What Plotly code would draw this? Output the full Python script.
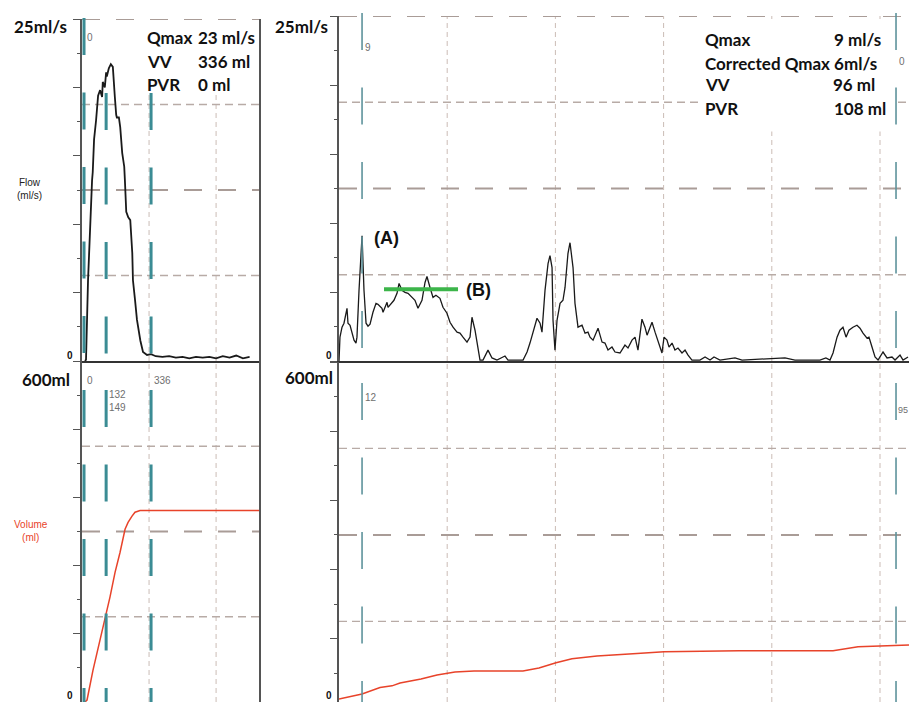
import plotly.graph_objects as go

W, H = 909, 702

# ---------------- data ----------------
# left panel: normal void, time in s, flow in ml/s, volume in ml
left_t = [0.45, 0.6, 0.9, 1.2, 1.5, 1.6, 1.8, 2.1, 2.4, 2.7,
          3.0, 3.1, 3.4, 3.6, 3.7, 4.0, 4.3, 4.6, 4.8, 4.9,
          5.1, 5.2, 5.5, 5.7, 6.0, 6.1, 6.3, 6.4, 6.6, 6.9,
          7.2, 7.5, 7.6, 7.9, 8.2, 8.7, 9.1, 9.7, 10.3, 11.0,
          12.0, 13.0, 14.0, 15.0, 16.0, 17.0, 18.0, 19.0, 20.0, 21.0,
          22.0, 23.0, 24.0, 25.0]
left_flow = [0, 0.1, 5.9, 10.3, 13.2, 13.8, 16.2, 17.6, 19.4, 19.8,
             19.3, 20.4, 20.0, 21.1, 20.8, 21.4, 21.7, 21.5, 20.4, 19.3,
             18.0, 17.8, 17.8, 17.1, 15.2, 14.9, 14.2, 13.2, 10.9, 10.5,
             10.3, 7.9, 5.9, 4.5, 3.0, 1.5, 0.66, 0.44, 0.5, 0.35,
             0.3, 0.35, 0.25, 0.3, 0.2, 0.3, 0.25, 0.3, 0.2, 0.35,
             0.25, 0.4, 0.2, 0.3]
left_vol_t = [0.45, 0.75, 1.64, 2.69, 3.58, 4.18, 4.93, 5.67, 6.42, 6.87,
              7.46, 7.91, 8.66, 12.0, 18.0, 26.4]
left_vol = [0, 3.5, 56, 109, 150, 185, 228, 263, 304, 316,
            327, 334, 337, 337, 336, 337]

# right panel: interrupted void
right_t = [0, 0.09, 0.28, 0.46, 0.74, 0.83, 1.02, 1.20, 1.39, 1.57,
           1.66, 1.85, 2.13, 2.31, 2.50, 2.68, 2.87, 3.14, 3.42, 3.60,
           3.97, 4.07, 4.44, 4.53, 4.81, 5.08, 5.36, 5.55, 5.82, 6.10,
           6.38, 6.75, 7.02, 7.30, 7.67, 7.95, 8.13, 8.41, 8.69, 8.96,
           9.33, 9.61, 9.98, 10.26, 10.54, 10.91, 11.18, 11.46, 11.83, 12.11,
           12.29, 12.57, 12.75, 13.03, 13.31, 13.77, 14.14, 14.60, 15.34, 15.62,
           17.01, 17.38, 17.65, 17.93, 18.30, 18.58, 18.76, 19.04, 19.32, 19.50,
           19.69, 19.78, 19.96, 20.15, 20.43, 20.70, 20.89, 21.16, 21.35, 21.63,
           21.81, 22.09, 22.46, 22.74, 23.01, 23.20, 23.48, 23.94, 24.31, 24.58,
           24.86, 25.23, 25.51, 25.97, 26.43, 26.71, 27.08, 27.36, 27.63, 28.00,
           28.28, 28.47, 28.93, 29.21, 29.48, 29.85, 30.04, 30.31, 30.50, 30.78,
           31.05, 31.33, 31.70, 31.98, 32.26, 32.62, 33.36, 33.83, 34.29, 34.66,
           35.21, 36.60, 37.25, 41.22, 42.14, 44.45, 45.00, 45.38, 45.66, 46.03,
           46.30, 46.58, 46.86, 47.13, 47.50, 47.87, 48.15, 48.43, 48.80, 48.98,
           49.26, 49.54, 49.82, 50.28, 50.65, 51.11, 51.39, 51.85, 52.13, 52.59]
right_flow = [0, 1.73, 2.45, 2.74, 3.82, 2.74, 2.59, 2.09, 1.51, 1.30,
              1.73, 5.12, 9.08, 5.12, 2.74, 2.52, 2.67, 3.53, 4.18, 4.11,
              3.82, 3.53, 4.25, 3.89, 4.18, 4.40, 4.90, 5.62, 5.12, 4.97,
              4.90, 4.61, 4.40, 3.82, 4.40, 5.69, 6.12, 5.33, 4.61, 4.76,
              4.54, 3.89, 3.46, 2.81, 2.45, 2.09, 2.02, 1.73, 1.37, 1.73,
              3.17, 2.23, 1.30, 0.07, 0.07, 0.79, 0.22, 0.07, 0.36, 0.07,
              0.07, 0.65, 1.30, 2.02, 3.10, 2.74, 2.09, 5.12, 7.06, 7.64,
              6.77, 2.95, 0.79, 2.95, 4.18, 4.40, 5.33, 7.78, 8.57, 6.77,
              4.18, 2.45, 2.59, 2.02, 2.09, 1.73, 1.51, 2.38, 1.37, 1.30,
              0.79, 1.01, 0.65, 0.58, 1.15, 0.94, 1.51, 1.73, 0.79, 3.03,
              2.45, 1.87, 2.81, 2.09, 1.51, 0.58, 1.73, 1.51, 1.01, 1.30,
              0.79, 0.94, 0.58, 0.79, 0.43, 0.07, 0.07, 0.29, 0.07, 0.29,
              0.07, 0.22, 0.07, 0.22, 0.07, 0.07, 0.22, 0.07, 0.58, 1.73,
              2.23, 2.45, 1.73, 2.23, 2.45, 2.59, 2.38, 2.02, 1.66, 1.73,
              1.01, 0.29, 0.07, 0.65, 0.22, 0.29, 0.07, 0.43, 0.07, 0.29]
right_vol_t = [0, 2.13, 3.79, 4.90, 5.64, 7.58, 9.06, 9.98, 10.72, 12.48,
               17.0, 18.48, 20.06, 21.53, 23.84, 27.54, 30.04, 36.97, 42.70, 45.66,
               47.97, 50.18, 52.68]
right_vol = [15, 24, 35, 38, 43, 50, 57, 60, 62, 64,
             64, 69, 78, 85, 90, 94, 97, 99, 99, 99,
             106, 108, 109]

# event markers (time, s) and their labels
left_marker_t = [0.3, 3.6, 10.3]
right_marker_t = [2.13, 51.48]
left_flow_marker_labels = ["0", "", ""]
left_vol_marker_labels = ["0", "132<br>149", "336"]
right_flow_marker_labels = ["9", "0"]
right_vol_marker_labels = ["12", "95"]

# corrected Qmax level (B)
corrected_t = [4.16, 11.0]
corrected_level = [5.2, 5.2]

flow_grid = [6.25, 12.5, 18.75, 25]
vol_grid = [150, 300, 450, 600]
left_time_grid = [10, 20]
right_time_grid = [10, 20, 30, 40, 50]

left_info = [("Qmax", "23 ml/s"), ("VV", "336 ml"), ("PVR", "0 ml")]
right_info = [("Qmax", "9 ml/s"), ("Corrected Qmax 6ml/s", ""), ("VV", "96 ml"), ("PVR", "108 ml")]

# ---------------- layout helpers ----------------
def fx(x):
    return x / W


def fy(y):
    return 1 - y / H


CAL = 'Lato, "Open Sans", sans-serif'
ARIAL = '"Liberation Sans", Arial, sans-serif'
BLACK = '#1a1a1a'
RED = '#e8432a'
GRID = '#cbbcb6'

LX = [fx(82), fx(259)]
RX = [fx(339), 1.0]
LF_Y = [fy(361), fy(19)]
LV_Y = [0.0, fy(361)]
RF_Y = [fy(361), fy(16)]
RV_Y = [0.0, fy(362)]
L_RANGE = [0, 26.4]
R_RANGE = [0, 52.68]

fig = go.Figure()
fig.add_trace(go.Scatter(x=left_t, y=left_flow, xaxis='x', yaxis='y', mode='lines',
                         line=dict(color=BLACK, width=1.8), hoverinfo='skip'))
fig.add_trace(go.Scatter(x=left_vol_t, y=left_vol, xaxis='x2', yaxis='y2', mode='lines',
                         line=dict(color=RED, width=1.5), hoverinfo='skip'))
fig.add_trace(go.Scatter(x=right_t, y=right_flow, xaxis='x3', yaxis='y3', mode='lines',
                         line=dict(color=BLACK, width=1.3), hoverinfo='skip'))
fig.add_trace(go.Scatter(x=right_vol_t, y=right_vol, xaxis='x4', yaxis='y4', mode='lines',
                         line=dict(color=RED, width=1.5), hoverinfo='skip'))
fig.add_trace(go.Scatter(x=corrected_t, y=corrected_level, xaxis='x3', yaxis='y3', mode='lines',
                         line=dict(color='#3cb54a', width=4), hoverinfo='skip'))


def xax(domain, rng, anchor, line):
    return dict(domain=domain, range=rng, anchor=anchor, showgrid=False,
                showline=line, linecolor='#333', linewidth=2, ticks='', showticklabels=False,
                zeroline=False, fixedrange=True)


def yax(domain, rng, anchor, dtick, mirror):
    return dict(domain=domain, range=rng, anchor=anchor, showgrid=False, zeroline=False,
                showline=True, linecolor='#555', linewidth=1.5, mirror=mirror,
                ticks='outside', ticklen=7, tickcolor='#555', tickwidth=1.2,
                dtick=dtick, tick0=0, showticklabels=False, fixedrange=True,
                minor=dict(ticks='outside', ticklen=3, dtick=dtick / 2, tickcolor='#555',
                           tickwidth=1.2, showgrid=False))


fig.update_layout(
    width=W, height=H, margin=dict(l=0, r=0, t=0, b=0),
    paper_bgcolor='white', plot_bgcolor='white', showlegend=False,
    xaxis=xax(LX, L_RANGE, 'y', True),
    yaxis=yax(LF_Y, [0, 25], 'x', 5, True),
    xaxis2=xax(LX, L_RANGE, 'y2', False),
    yaxis2=yax(LV_Y, [0, 600], 'x2', 120, True),
    xaxis3=xax(RX, R_RANGE, 'y3', True),
    yaxis3=yax(RF_Y, [0, 25], 'x3', 5, False),
    xaxis4=xax(RX, R_RANGE, 'y4', False),
    yaxis4=yax(RV_Y, [10, 600], 'x4', 120, False),
    xaxis5=dict(overlaying='x', anchor='free', position=fy(17), side='top', range=L_RANGE,
                showgrid=False, showline=True, linecolor='#444', linewidth=1.5,
                ticks='inside', ticklen=6, tickcolor='#444', dtick=10, tick0=0,
                showticklabels=False, zeroline=False, fixedrange=True,
                minor=dict(ticks='inside', ticklen=3, dtick=1, tickcolor='#444', showgrid=False)),
    xaxis6=dict(overlaying='x3', anchor='free', position=fy(13), side='top', range=R_RANGE,
                showgrid=False, showline=True, linecolor='#8a8a8a', linewidth=1.5,
                ticks='inside', ticklen=4, tickcolor='#8a8a8a', dtick=10, tick0=0,
                showticklabels=False, zeroline=False, fixedrange=True),
)

shapes = []
VGRID = dict(color=GRID, width=1, dash='5px,4px')
for xa, ya, grid_t in [('x', 'y', left_time_grid), ('x2', 'y2', left_time_grid),
                       ('x3', 'y3', right_time_grid), ('x4', 'y4', right_time_grid)]:
    for t in grid_t:
        shapes.append(dict(type='line', xref=xa, yref=ya + ' domain', x0=t, x1=t,
                           y0=0, y1=1, line=VGRID, layer='below'))

quarter = dict(color='#b8aba6', width=1.3, dash='8px,5px')
half = dict(color='#a99c97', width=2, dash='18px,16px')
styles = [quarter, half, quarter, half]
for xa, ya, levels in [('x', 'y', flow_grid), ('x2', 'y2', vol_grid),
                       ('x3', 'y3', flow_grid), ('x4', 'y4', vol_grid)]:
    for lv, st in zip(levels, styles):
        shapes.append(dict(type='line', xref=xa + ' domain', yref=ya, x0=0, x1=1,
                           y0=lv, y1=lv, line=st, layer='below'))

# white boxes behind the info text
shapes.append(dict(type='rect', xref='x domain', yref='y domain', x0=0.328, x1=0.994,
                   y0=0.778, y1=0.991, fillcolor='white', line=dict(width=0), layer='below'))
shapes.append(dict(type='rect', xref='x3 domain', yref='y3 domain', x0=0.63, x1=0.972,
                   y0=0.665, y1=0.985, fillcolor='white', line=dict(width=0), layer='below'))

# teal event markers
L_TEAL = dict(color='#3b8c94', width=3, dash='37px,37.5px')
R_TEAL = dict(color='#5e939c', width=1.6, dash='37px,37.5px')
for i, t in enumerate(left_marker_t):
    top = 1.003 if i == 0 else 0.7836
    shapes.append(dict(type='line', xref='x', yref='y domain', x0=t, x1=t, y0=top, y1=0,
                       line=L_TEAL, layer='above'))
    shapes.append(dict(type='line', xref='x2', yref='y2 domain', x0=t, x1=t, y0=0.915, y1=0,
                       line=L_TEAL, layer='above'))
for t in right_marker_t:
    shapes.append(dict(type='line', xref='x3', yref='y3 domain', x0=t, x1=t, y0=1.009, y1=0,
                       line=R_TEAL, layer='above'))
    shapes.append(dict(type='line', xref='x4', yref='y4 domain', x0=t, x1=t, y0=0.938, y1=0,
                       line=R_TEAL, layer='above'))

ann = []


def A(x, y, text, size, color='#111', family=CAL, xanchor='center', yanchor='middle'):
    ann.append(dict(x=fx(x), y=fy(y), xref='paper', yref='paper', text=text, showarrow=False,
                    font=dict(family=family, size=size, color=color),
                    xanchor=xanchor, yanchor=yanchor))


A(40, 27, '<b>25ml/s</b>', 17)
A(301, 27, '<b>25ml/s</b>', 17)
A(46, 379, '<b>600ml</b>', 17)
A(309, 377, '<b>600ml</b>', 17)
A(30, 189, 'Flow<br>(ml/s)', 10, '#222', ARIAL)
A(31, 531, 'Volume<br>(ml)', 10, RED, ARIAL)
for (zx, zy) in [(70, 355), (70, 695), (329, 355), (329, 695)]:
    A(zx, zy, '<b>0</b>', 10, '#111', ARIAL)

for i, (k, v) in enumerate(left_info):
    yy = 38 + i * 23
    A(145, yy, '<b>%s</b>' % k, 17, xanchor='left')
    A(196, yy, '<b>%s</b>' % v, 17, xanchor='left')

r_rows = [40, 63, 85, 108]
r_val_right = [883, 878, 877, 888]
for (k, v), yy, xr in zip(right_info, r_rows, r_val_right):
    A(703, yy, '<b>%s</b>' % k, 17, xanchor='left')
    if v:
        A(xr, yy, '<b>%s</b>' % v, 17, xanchor='right')

A(386, 238, '<b>(A)</b>', 18, '#111', ARIAL)
A(478, 290, '<b>(B)</b>', 18, '#111', ARIAL)


def M(xref, t, y, text, yanchor='middle', size=10, shift=2):
    ann.append(dict(x=t, y=fy(y), xref=xref, yref='paper', text=text, showarrow=False,
                    font=dict(family=ARIAL, size=size, color='#6f6f6f'),
                    xanchor='left', yanchor=yanchor, xshift=shift, align='left',
                    borderpad=0))


for t, lab in zip(left_marker_t, left_flow_marker_labels):
    if lab:
        M('x', t, 38, lab)
lv_y = [381, 388, 381]
for t, lab, yy in zip(left_marker_t, left_vol_marker_labels, lv_y):
    M('x2', t, yy, lab, 'top' if '<br>' in lab else 'middle')
for t, lab, yy in zip(right_marker_t, right_flow_marker_labels, [47, 61]):
    M('x3', t, yy, lab)
for i, (t, lab, yy) in enumerate(zip(right_marker_t, right_vol_marker_labels, [397, 410])):
    if i == len(right_marker_t) - 1:
        M('x4', t, yy, lab, size=9, shift=1)
    else:
        M('x4', t, yy, lab)

fig.update_layout(shapes=shapes, annotations=ann)
fig.write_html("out.html", config={'displayModeBar': False},
               post_script="document.body.style.margin='0px';document.body.style.overflow='hidden';")
